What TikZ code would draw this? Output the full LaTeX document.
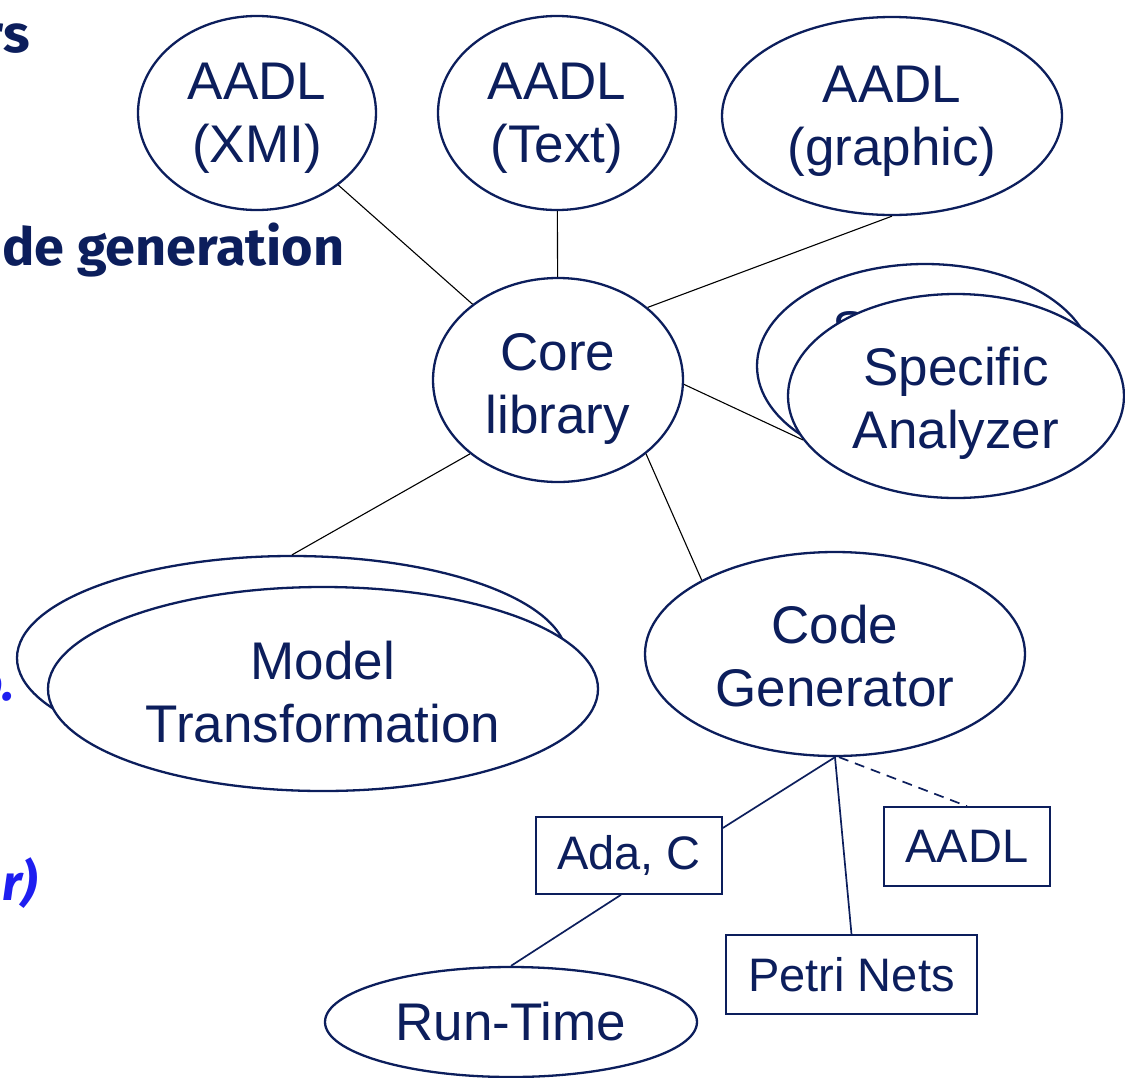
\documentclass[tikz,border=0pt]{standalone}
\usepackage{fontspec}
\setmainfont{Liberation Sans}
\newfontfamily\fragfont{Fira Sans}
\usetikzlibrary{shapes.geometric}
\definecolor{navy}{RGB}{12,30,92}
\definecolor{fragblue}{RGB}{30,30,240}
\begin{document}
\begin{tikzpicture}[x=0.5pt,y=-0.5pt,
  ell/.style={ellipse, draw=navy, line width=1.15pt, fill=white, inner sep=0pt,
    text=navy, align=center, font=\fontsize{26.5}{31.5}\selectfont},
  box/.style={rectangle, draw=navy, line width=0.8pt, fill=white, inner sep=0pt,
    text=navy, font=\fontsize{23.5}{28}\selectfont},
  coreline/.style={black, line width=0.55pt},
  genline/.style={navy, line width=0.85pt},
  fragnavy/.style={anchor=base east, inner sep=0pt, text=navy,
    font=\fragfont\bfseries\fontsize{25}{30}\selectfont},
  fragblue/.style={anchor=base east, inner sep=0pt, text=fragblue,
    font=\fragfont\bfseries\itshape\fontsize{25}{30}\selectfont}]
\useasboundingbox (0,0) rectangle (1125,1077);

% left-hand text fragments
\node[fragnavy] (f1) at (30,52) {\scalebox{1.1}[1.05]{rs}};
\node[fragnavy] (f2) at (345,265) {\scalebox{1.08}[1.05]{de generation}};
\node[fragblue] (f3) at (15,700) {o.};
\node[fragblue] (f4) at (38,900) {r)};

% ellipses
\node[ell, minimum width=119pt, minimum height=97pt] (xmi) at (257,113) {\rule{0pt}{23pt}AADL\\(XMI)};
\node[ell, minimum width=119pt, minimum height=97pt] (txt) at (557,113) {\rule{0pt}{23pt}AADL\\(Text)};
\node[ell, minimum width=170pt, minimum height=99pt] (gra) at (892,116) {\rule{0pt}{23pt}AADL\\(graphic)};
\node[ell, minimum width=125pt, minimum height=102pt] (core) at (558,380) {\rule{0pt}{27pt}Core\\library};
\node[ell, minimum width=168pt, minimum height=102pt] (specb) at (925,366) {Specific\\Analyzer};
\node[ell, minimum width=168pt, minimum height=102pt] (spec) at (956,396) {\rule{0pt}{26pt}Specific\\Analyzer};
\node[ell, minimum width=275pt, minimum height=102pt] (mtb) at (292,658) {};
\node[ell, minimum width=275pt, minimum height=102pt] (mt) at (323,689) {\rule{0pt}{22pt}Model\\Transformation};
\node[ell, minimum width=190pt, minimum height=102pt] (cg) at (835,654) {\rule{0pt}{21pt}Code\\Generator};
\node[ell, minimum width=186pt, minimum height=55pt] (rt) at (511,1022) {Run-Time};

% boxes
\node[box, minimum width=93pt, minimum height=38.5pt] (ada) at (629,855.5) {Ada, C};
\node[box, minimum width=83pt, minimum height=39.5pt] (aadl) at (967,846.5) {AADL};
\node[box, minimum width=125.5pt, minimum height=39.5pt] (pn) at (851.5,974.5) {Petri Nets};

% connectors
\draw[coreline] (xmi) -- (core);
\draw[coreline] (txt) -- (core);
\draw[coreline] (gra.south) -- (core.39);
\draw[coreline] (core.-2) -- (spec.196);
\draw[coreline] (core.220) -- (mtb.north);
\draw[coreline] (core.-40) -- (cg.151);
\draw[genline] (cg.south) -- ([yshift=13.75pt]ada.east);
\draw[genline] (cg.south) -- (pn.north);
\draw[genline, dash pattern=on 5pt off 3.5pt] ([xshift=2pt]cg.south) -- (aadl.north);
\draw[genline] ([xshift=-4pt]ada.south) -- (rt.north);
\end{tikzpicture}
\end{document}
